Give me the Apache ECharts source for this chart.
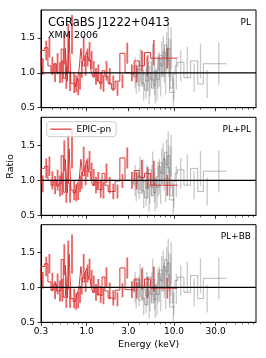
<!DOCTYPE html>
<html>
<head>
<meta charset="utf-8">
<script src="https://cdn.jsdelivr.net/npm/echarts@6/dist/echarts.min.js"></script>
<style>
html,body{margin:0;padding:0;background:#fff;}
#chart{width:266px;height:358px;}
</style>
</head>
<body>
<div id="chart"></div>
<script>
// ---------------- data ----------------
const redEdges = [0.30,0.33,0.36,0.39,0.42,0.45,0.48,0.51,0.54,0.57,0.60,0.63,0.66,0.70,0.74,0.78,0.82,0.86,0.90,0.95,1.00,1.05,1.11,1.17,1.24,1.32,1.40,1.50,1.62,1.76,1.92,2.12,2.40,2.75,3.10,3.50,4.00,4.60,5.40,6.40,11.0];
const redPL   = [1.09,1.32,1.36,1.10,1.00,1.13,1.00,1.02,1.34,0.92,1.35,0.88,1.55,0.85,0.84,0.80,0.88,1.05,1.35,1.10,1.22,1.30,1.18,1.05,0.95,1.00,0.88,0.85,1.03,0.95,0.85,0.77,0.88,1.28,1.00,0.98,1.17,1.10,1.29,1.21];
const redPLPL = [0.95,1.17,1.20,1.00,0.93,1.00,0.92,0.95,1.35,0.83,1.30,0.82,1.45,0.86,0.82,0.84,0.95,1.00,1.30,1.07,1.18,1.28,1.12,1.04,0.93,1.00,0.87,0.86,1.10,0.93,0.84,0.84,0.99,1.32,1.00,0.99,1.14,1.04,1.10,0.93];
const redPLBB = [1.10,1.30,1.34,1.08,0.96,1.05,0.95,0.96,1.40,0.86,1.32,0.85,1.48,0.84,0.80,0.82,0.90,1.02,1.30,1.08,1.20,1.27,1.12,1.05,0.93,1.00,0.90,0.88,1.15,0.95,0.85,0.83,0.96,1.28,0.97,0.96,1.12,1.00,1.12,0.99];
const redErr  = [0.12,0.14,0.14,0.13,0.13,0.15,0.15,0.16,0.22,0.15,0.35,0.14,0.28,0.14,0.12,0.12,0.12,0.12,0.18,0.14,0.13,0.14,0.13,0.12,0.12,0.12,0.12,0.12,0.14,0.12,0.11,0.10,0.10,0.15,0.12,0.12,0.15,0.15,0.18,0.15];

const grayEdgesA = [3.4,3.8,4.2,4.6,5.0,5.4,5.8,6.2,6.6,7.0,7.5,8.0,8.5,9.0,9.6,10.3,11.0,13.0,15.5,18.7,21.7,26.5,40.0];
const grayValA   = [1.00,0.95,1.05,0.85,0.75,1.00,0.90,0.82,1.05,1.20,1.10,1.30,1.22,1.35,0.78,0.98,1.10,1.15,0.93,1.17,0.84,1.13];
const grayErrA   = [0.22,0.22,0.25,0.22,0.20,0.22,0.22,0.22,0.25,0.25,0.25,0.28,0.28,0.30,0.18,0.22,0.22,0.22,0.20,0.25,0.20,0.30];
const grayEdgesB = [3.5,3.9,4.3,4.7,5.1,5.5,5.9,6.3,6.8,7.3,7.8,8.3,8.9,9.5,10.2];
const grayValB   = [0.92,1.10,0.82,0.98,0.88,1.15,0.78,1.02,0.90,1.25,0.95,1.40,1.18,0.72];
const grayErrB   = [0.22,0.24,0.22,0.24,0.22,0.26,0.22,0.25,0.24,0.28,0.26,0.30,0.30,0.20];

const xMajorTicks = [0.3, 1, 3, 10, 30];
const xMinorTicks = [0.4,0.5,0.6,0.7,0.8,0.9,2,4,5,6,7,8,9,20,40,50,60,70,80];
const yTicks = [0.5, 1.0, 1.5];
const panelLabels = ['PL', 'PL+PL', 'PL+BB'];
const xMin = 0.3, xMax = 87;
const yMin = 0.5, yMax = 1.9;

// ---------------- helpers ----------------
const L = Math.log10;
function stepData(edges, vals) {
  const d = vals.map((v, i) => [L(edges[i]), v]);
  d.push([L(edges[edges.length - 1]), vals[vals.length - 1]]);
  return d;
}
function errData(edges, vals, errs) {
  return vals.map((v, i) => [(L(edges[i]) + L(edges[i + 1])) / 2, v, errs[i]]);
}
function errSeries(gi, data, color, width) {
  return {
    type: 'custom', xAxisIndex: gi * 2, yAxisIndex: gi, clip: true, silent: true,
    encode: { x: 0, y: 1 },
    data: data,
    renderItem: function (params, api) {
      const c = api.value(0), v = api.value(1), e = api.value(2);
      const p1 = api.coord([c, v - e]);
      const p2 = api.coord([c, v + e]);
      return { type: 'line', shape: { x1: p1[0], y1: p1[1], x2: p2[0], y2: p2[1] },
               style: { stroke: color, lineWidth: width } };
    }
  };
}
function stepSeries(gi, name, data, color, width) {
  return {
    type: 'line', name: name, xAxisIndex: gi * 2, yAxisIndex: gi, step: 'start',
    symbol: 'none', silent: true, animation: false, clip: true,
    lineStyle: { color: color, width: width }, itemStyle: { color: color },
    data: data
  };
}

const FONT = 'DejaVu Sans';
const grids = [
  { left: 41, right: 10, top: 10, height: 97.7 },
  { left: 41, right: 10, top: 117.3, height: 98 },
  { left: 41, right: 10, top: 224.7, height: 97.6 }
];
const redSets = [redPL, redPLPL, redPLBB];

const xAxes = [], yAxes = [], series = [];
grids.forEach((g, gi) => {
  g.show = true; g.borderColor = '#000'; g.borderWidth = 1; g.backgroundColor = 'transparent';
  xAxes.push({
    type: 'value', gridIndex: gi, min: L(xMin), max: L(xMax), position: 'bottom',
    splitLine: { show: false },
    axisLine: { show: true, onZero: false, lineStyle: { color: '#000', width: 1 } },
    axisTick: { show: true, length: 3.5, customValues: xMajorTicks.map(L), lineStyle: { color: '#000', width: 0.8 } },
    axisLabel: { show: gi === 2, customValues: xMajorTicks.map(L), margin: 5, color: '#000',
                 fontFamily: FONT, fontSize: 9,
                 formatter: v => Math.pow(10, v).toFixed(1) }
  });
  xAxes.push({
    type: 'value', gridIndex: gi, min: L(xMin), max: L(xMax), position: 'bottom',
    splitLine: { show: false }, axisLine: { show: false, onZero: false },
    axisTick: { show: true, length: 2, customValues: xMinorTicks.map(L), lineStyle: { color: '#000', width: 0.6 } },
    axisLabel: { show: false }
  });
  yAxes.push({
    type: 'value', gridIndex: gi, min: yMin, max: yMax, position: 'left',
    splitLine: { show: false },
    axisLine: { show: true, onZero: false, lineStyle: { color: '#000', width: 1 } },
    axisTick: { show: true, length: 3.5, customValues: yTicks, lineStyle: { color: '#000', width: 0.8 } },
    axisLabel: { customValues: yTicks, margin: 6, color: '#000', fontFamily: FONT, fontSize: 9,
                 formatter: v => v.toFixed(1) }
  });

  // gray data
  series.push(stepSeries(gi, 'other', stepData(grayEdgesA, grayValA), 'rgba(100,100,100,0.45)', 1));
  series.push(errSeries(gi, errData(grayEdgesA, grayValA, grayErrA), 'rgba(120,120,120,0.4)', 1.3));
  series.push(stepSeries(gi, 'other', stepData(grayEdgesB, grayValB), 'rgba(100,100,100,0.45)', 1));
  series.push(errSeries(gi, errData(grayEdgesB, grayValB, grayErrB), 'rgba(120,120,120,0.4)', 1.3));
  // red data
  series.push(errSeries(gi, errData(redEdges, redSets[gi], redErr), 'rgba(220,40,40,0.72)', 1.8));
  series.push(stepSeries(gi, 'EPIC-pn', stepData(redEdges, redSets[gi]), 'rgba(214,39,40,0.9)', 1));
  // ratio = 1
  series.push({
    type: 'line', xAxisIndex: gi * 2, yAxisIndex: gi, symbol: 'none', silent: true, z: 5,
    lineStyle: { color: '#000', width: 1.2 },
    data: [[L(xMin), 1], [L(xMax), 1]]
  });
});

const txt = (t, x, y, size, align, extra) => Object.assign({
  type: 'text', x: x, y: y, z: 100,
  style: { text: t, fill: '#000', font: size + 'px "' + FONT + '"', textAlign: align, textVerticalAlign: 'middle' }
}, extra || {});

const graphic = [
  txt('CGRaBS J1222+0413', 48, 23.5, 11.5, 'left'),
  txt('XMM 2006', 48, 36, 9.5, 'left'),
  txt(panelLabels[0], 251, 22.7, 9, 'right'),
  txt(panelLabels[1], 251, 130, 9, 'right'),
  txt(panelLabels[2], 251, 236.7, 9, 'right'),
  txt('Energy (keV)', 148.5, 345, 9.5, 'center'),
  txt('Ratio', 11, 166.5, 9.5, 'center', { rotation: Math.PI / 2 })
];

const chart = echarts.init(document.getElementById('chart'), null, { renderer: 'canvas' });
chart.setOption({
  animation: false,
  grid: grids,
  xAxis: xAxes,
  yAxis: yAxes,
  legend: {
    data: ['EPIC-pn'], left: 46.7, top: 121.7, orient: 'vertical',
    itemWidth: 21, itemHeight: 9, itemGap: 0,
    padding: [3, 5, 3, 3],
    backgroundColor: 'rgba(255,255,255,0.8)', borderColor: '#cccccc', borderWidth: 1, borderRadius: 3,
    textStyle: { fontFamily: FONT, fontSize: 9, color: '#000' },
    selectedMode: false,
    itemStyle: { opacity: 0 },
    lineStyle: { width: 1.5, color: 'rgba(214,39,40,0.75)' }
  },
  series: series,
  graphic: graphic
});
</script>
</body>
</html>
